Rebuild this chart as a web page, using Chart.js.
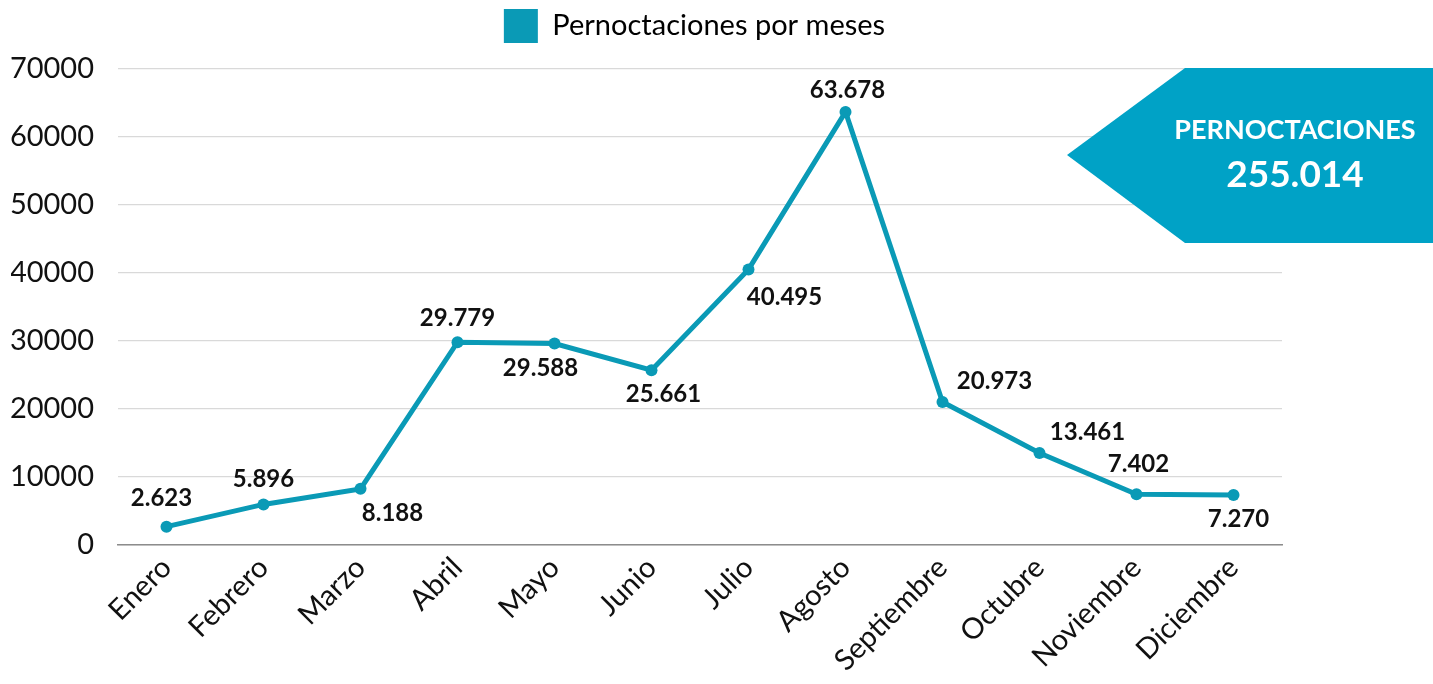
<!DOCTYPE html>
<html>
<head>
<meta charset="utf-8">
<script src="https://cdn.jsdelivr.net/npm/chart.js@4"></script>
<style>
  html, body { margin: 0; padding: 0; background: #fff; }
  #wrap { width: 1433px; height: 684px; }
</style>
</head>
<body>
<div id="wrap"><canvas id="chart" width="1433" height="684"></canvas></div>
<script>
// Data
const months = ["Enero", "Febrero", "Marzo", "Abril", "Mayo", "Junio", "Julio",
  "Agosto", "Septiembre", "Octubre", "Noviembre", "Diciembre"];
const nights = [2623, 5896, 8188, 29779, 29588, 25661, 40495, 63678, 20973, 13461, 7402, 7270];
const yTicks = [0, 10000, 20000, 30000, 40000, 50000, 60000, 70000];
const seriesName = "Pernoctaciones por meses";
const bannerTitle = "PERNOCTACIONES";

// label offsets (dx, dy) relative to each point
const labelOffsets = [
  [-5, -28], [0, -25], [32, 24], [0, -24], [-14, 25], [12, 24],
  [36, 28], [2, -22], [52, -21], [48, -21], [2, -30], [5, 24]
];

const lineColor = "#0a9ab6";
const fontFamily = "Lato, 'Open Sans', sans-serif";

function fmt(n) {
  return String(n).replace(/\B(?=(\d{3})+(?!\d))/g, ".");
}

// extra room under the legend, and legend nudged right
const legendTweak = {
  id: "legendTweak",
  beforeInit(chart) {
    const fit = chart.legend.fit;
    chart.legend.fit = function () {
      fit.bind(chart.legend)();
      this.height += 16;
    };
  },
  afterLayout(chart) {
    chart.legend.left += 48;
    chart.legend.right += 48;
  }
};

// Value labels next to points
const valueLabels = {
  id: "valueLabels",
  afterDatasetsDraw(chart) {
    const ctx = chart.ctx;
    const meta = chart.getDatasetMeta(0);
    ctx.save();
    ctx.font = "bold 24px " + fontFamily;
    ctx.fillStyle = "#111";
    ctx.textAlign = "center";
    ctx.textBaseline = "middle";
    meta.data.forEach((pt, i) => {
      const [dx, dy] = labelOffsets[i];
      ctx.fillText(fmt(nights[i]), pt.x + dx, pt.y + dy);
    });
    ctx.restore();
  }
};

// Arrow banner with the yearly total
const totalBanner = {
  id: "totalBanner",
  afterDraw(chart) {
    const ctx = chart.ctx;
    const total = nights.reduce((a, b) => a + b, 0);
    ctx.save();
    ctx.fillStyle = "#00a2c6";
    ctx.beginPath();
    ctx.moveTo(1067, 155);
    ctx.lineTo(1185, 68);
    ctx.lineTo(1433, 68);
    ctx.lineTo(1433, 243);
    ctx.lineTo(1185, 243);
    ctx.closePath();
    ctx.fill();
    ctx.fillStyle = "#fff";
    ctx.textAlign = "center";
    ctx.textBaseline = "middle";
    ctx.font = "bold 27px " + fontFamily;
    ctx.fillText(bannerTitle, 1295, 130);
    ctx.font = "bold 37px " + fontFamily;
    ctx.fillText(fmt(total), 1295, 175);
    ctx.restore();
  }
};

new Chart(document.getElementById("chart").getContext("2d"), {
  type: "line",
  data: {
    labels: months,
    datasets: [{
      label: seriesName,
      data: nights,
      borderColor: lineColor,
      backgroundColor: lineColor,
      borderWidth: 5,
      pointRadius: 6,
      pointBackgroundColor: lineColor,
      pointBorderWidth: 0,
      tension: 0
    }]
  },
  options: {
    responsive: false,
    animation: false,
    layout: { padding: { left: 11, right: 151, top: 0, bottom: 0 } },
    plugins: {
      legend: {
        position: "top",
        labels: {
          boxWidth: 34,
          boxHeight: 34,
          padding: 9,
          color: "#111",
          font: { family: fontFamily, size: 29 },
          generateLabels: (chart) => [{
            text: seriesName,
            fillStyle: lineColor,
            strokeStyle: lineColor,
            lineWidth: 0,
            datasetIndex: 0
          }]
        }
      },
      tooltip: { enabled: false }
    },
    scales: {
      x: {
        offset: true,
        grid: { display: false, drawTicks: false },
        border: { color: "#8c8c8c", width: 1.5 },
        afterFit: (scale) => { scale.paddingLeft = 0; scale.paddingRight = 0; },
        ticks: {
          color: "#111",
          font: { family: fontFamily, size: 29 },
          minRotation: 45,
          maxRotation: 45,
          padding: 6
        }
      },
      y: {
        min: 0,
        max: 70000,
        afterBuildTicks: (axis) => { axis.ticks = yTicks.map(v => ({ value: v })); },
        afterFit: (scale) => { scale.width = 107; },
        grid: { color: "#d9d9d9", lineWidth: 1.2, drawTicks: false },
        border: { display: false },
        ticks: {
          color: "#111",
          font: { family: fontFamily, size: 29 },
          padding: 24,
          callback: (v) => String(v)
        }
      }
    }
  },
  plugins: [legendTweak, valueLabels, totalBanner]
});
</script>
</body>
</html>
